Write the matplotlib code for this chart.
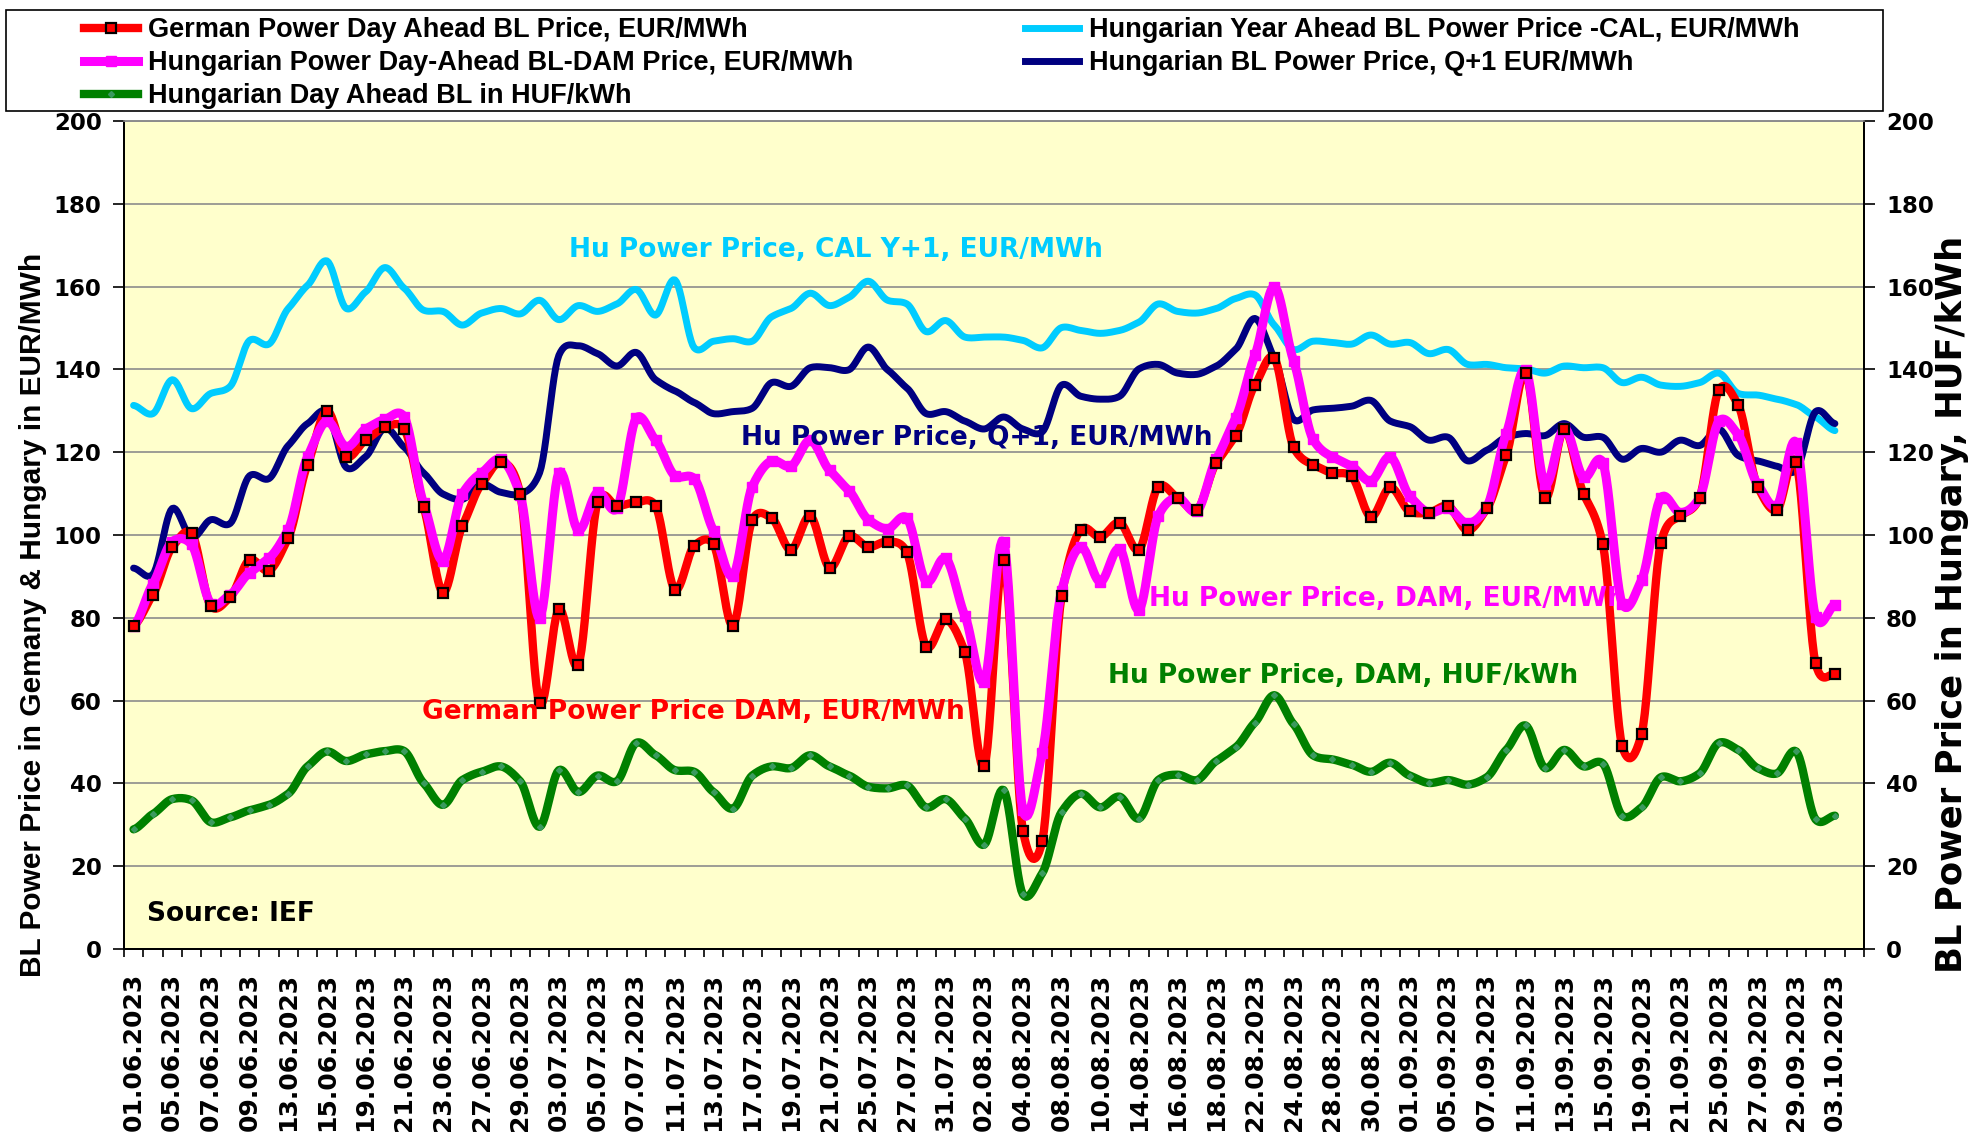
import numpy as np
import pandas as pd
import matplotlib
matplotlib.use("Agg")
import matplotlib.pyplot as plt
from matplotlib.lines import Line2D
from matplotlib.patches import Rectangle

# business days shown on the category axis
dates = pd.bdate_range("2023-06-01", "2023-10-03")
date_labels = [d.strftime("%d.%m.%Y") for d in dates]

# German Power Day Ahead BL Price, EUR/MWh
german_dam = [78.1, 85.6, 97.1, 100.4, 82.8, 85.0, 94.0, 91.4, 99.3, 117.0,
              130.0, 118.9, 122.9, 126.0, 125.6, 106.8, 86.1, 102.1, 112.3, 117.6,
              109.9, 59.3, 82.1, 68.6, 107.9, 107.0, 107.9, 107.0, 86.8, 97.4,
              97.7, 78.1, 103.6, 104.1, 96.4, 104.6, 92.1, 99.7, 97.1, 98.4,
              95.8, 73.0, 79.6, 71.7, 44.1, 94.0, 28.6, 26.0, 85.2, 101.3,
              99.5, 103.0, 96.4, 111.7, 109.0, 106.0, 117.4, 124.0, 136.2, 142.8,
              121.2, 117.0, 115.0, 114.2, 104.4, 111.5, 105.7, 105.4, 107.0, 101.1,
              106.4, 119.2, 139.2, 109.0, 125.6, 109.9, 97.7, 49.0, 51.9, 98.1,
              104.6, 109.0, 135.1, 131.4, 111.7, 106.0, 117.6, 69.0, 66.4]

# Hungarian Power Day-Ahead BL-DAM Price, EUR/MWh
hu_dam_eur = [78.0, 88.2, 98.4, 97.7, 83.4, 85.6, 90.9, 94.4, 101.3, 118.9,
              127.5, 121.3, 125.6, 127.9, 128.5, 107.7, 93.8, 109.9, 115.0, 118.3,
              109.7, 79.9, 115.0, 101.1, 110.3, 106.4, 128.2, 122.9, 114.3, 113.6,
              101.0, 90.1, 111.7, 117.9, 116.6, 122.9, 115.6, 110.7, 103.7, 101.5,
              104.1, 88.7, 94.4, 80.5, 64.6, 98.4, 33.5, 47.4, 86.5, 97.1,
              88.7, 96.7, 81.9, 104.6, 109.0, 105.7, 118.3, 128.2, 143.4, 160.0,
              142.1, 123.2, 118.9, 116.6, 113.0, 118.9, 109.4, 105.4, 106.4, 102.8,
              106.8, 124.5, 139.9, 112.3, 125.8, 113.9, 117.4, 83.4, 89.1, 109.0,
              105.4, 109.0, 127.5, 124.2, 112.3, 107.0, 122.3, 80.3, 83.2]

# Hungarian Year Ahead BL Power Price -CAL, EUR/MWh
hu_cal = [131.3, 129.3, 137.5, 130.5, 134.2, 135.9, 147.0, 146.1, 154.7, 160.3,
          166.2, 154.7, 158.7, 164.6, 159.6, 154.3, 154.0, 150.7, 153.6, 154.7,
          153.4, 156.7, 152.0, 155.4, 154.0, 155.8, 159.3, 153.1, 161.6, 145.2,
          146.8, 147.4, 146.8, 152.7, 154.7, 158.4, 155.4, 157.4, 161.3, 156.7,
          155.8, 149.1, 151.8, 147.8, 147.8, 147.8, 147.0, 145.2, 150.1, 149.4,
          148.7, 149.4, 151.4, 155.8, 154.0, 153.6, 154.7, 157.1, 158.0, 150.7,
          144.8, 146.8, 146.5, 146.1, 148.3, 146.1, 146.5, 143.8, 144.8, 141.2,
          141.2, 140.4, 140.1, 139.1, 140.8, 140.4, 140.4, 136.8, 138.1, 136.2,
          135.9, 136.8, 139.1, 134.2, 133.8, 132.8, 131.5, 128.5, 125.2]

# Hungarian BL Power Price, Q+1 EUR/MWh
hu_q1 = [92.0, 90.5, 106.4, 99.3, 103.7, 102.8, 114.3, 113.6, 121.6, 126.9,
         129.8, 116.3, 118.9, 125.8, 121.2, 115.0, 109.9, 108.6, 112.3, 110.3,
         109.9, 115.0, 143.4, 145.7, 143.8, 140.8, 144.1, 137.5, 134.8, 132.0,
         129.3, 129.8, 130.6, 136.8, 135.9, 140.4, 140.4, 139.9, 145.4, 139.9,
         135.5, 129.3, 129.8, 127.5, 125.6, 128.5, 125.6, 124.9, 136.2, 133.5,
         132.8, 133.5, 140.1, 141.2, 139.1, 138.8, 140.8, 144.8, 152.3, 142.8,
         127.9, 130.2, 130.6, 131.1, 132.5, 127.5, 126.2, 122.9, 123.6, 117.9,
         120.5, 123.6, 124.5, 124.0, 126.9, 123.6, 123.6, 118.3, 120.9, 120.0,
         122.9, 121.6, 125.6, 119.2, 117.9, 116.6, 115.6, 129.8, 126.9]

# Hungarian Day Ahead BL in HUF/kWh (right axis)
hu_dam_huf = [28.9, 32.6, 36.2, 35.9, 30.6, 31.8, 33.5, 34.8, 37.5, 44.1,
              47.7, 45.4, 47.0, 47.8, 47.8, 40.1, 34.8, 40.8, 42.8, 44.1,
              40.5, 29.5, 43.2, 37.9, 41.9, 40.5, 49.8, 46.8, 43.2, 42.8,
              37.9, 33.9, 41.9, 44.1, 43.7, 46.8, 44.1, 41.9, 39.2, 38.8,
              39.5, 34.2, 36.2, 31.5, 25.2, 38.4, 13.2, 18.3, 33.1, 37.5,
              34.2, 36.8, 31.5, 40.8, 42.1, 40.8, 45.4, 48.7, 54.7, 61.3,
              54.3, 46.8, 45.8, 44.5, 42.8, 45.0, 41.9, 40.1, 40.8, 39.7,
              41.5, 48.1, 54.0, 43.7, 48.1, 44.1, 44.8, 32.2, 34.2, 41.5,
              40.5, 42.4, 49.8, 48.1, 43.7, 42.4, 47.7, 31.3, 32.2]

RED, MAGENTA, CYAN, NAVY, GREEN = "#FF0000", "#FF00FF", "#00CCFF", "#000080", "#008000"


def smooth(y, n=12, k=0.7):
    # Excel-like smoothed line (cardinal spline through the points)
    y = np.asarray(y, float)
    p = np.concatenate([[y[0]], y, [y[-1]]])
    t = np.linspace(0, 1, n, endpoint=False)
    h00 = 2 * t ** 3 - 3 * t ** 2 + 1
    h10 = t ** 3 - 2 * t ** 2 + t
    h01 = -2 * t ** 3 + 3 * t ** 2
    h11 = t ** 3 - t ** 2
    xs, ys = [], []
    for i in range(len(y) - 1):
        p0, p1, p2, p3 = p[i], p[i + 1], p[i + 2], p[i + 3]
        m1 = k * (p2 - p0) / 2
        m2 = k * (p3 - p1) / 2
        xs.append(i + t)
        ys.append(h00 * p1 + h10 * m1 + h01 * p2 + h11 * m2)
    xs.append([len(y) - 1])
    ys.append([y[-1]])
    return np.concatenate(xs), np.concatenate(ys)


plt.rcParams["font.family"] = "DejaVu Sans"
plt.rcParams["font.weight"] = "bold"

fig = plt.figure(figsize=(19.73, 11.38), dpi=100)
ax = fig.add_axes([0.0628, 0.1661, 0.8819, 0.7276])
ax2 = ax.twinx()

x = np.arange(len(dates))

ax.set_facecolor("#FFFFCC")
ax.set_xlim(-0.5, len(dates) + 0.5)
ax.set_ylim(0, 200)
ax2.set_ylim(0, 200)
ax.set_yticks(range(0, 201, 20))
ax2.set_yticks(range(0, 201, 20))
ax.grid(axis="y", color="#8C8C8C", lw=1.2, zorder=0)
ax.set_axisbelow(True)

ax.plot(*smooth(hu_cal), color=CYAN, lw=5.0, zorder=3, solid_capstyle="round")
ax.plot(*smooth(hu_q1), color=NAVY, lw=5.0, zorder=3, solid_capstyle="round")
ax.plot(*smooth(german_dam), color=RED, lw=6.0, zorder=4, solid_capstyle="round")
ax.plot(*smooth(hu_dam_eur), color=MAGENTA, lw=6.5, zorder=5, solid_capstyle="round")
ax.plot(x, hu_dam_eur, ls="none", marker="s", ms=7, color=MAGENTA, zorder=5)
ax.plot(x, german_dam, ls="none", marker="s", ms=6.5, mfc=RED, mec="black", mew=1.6, zorder=6)

ax2.plot(*smooth(hu_dam_huf), color=GREEN, lw=6.0, zorder=3, solid_capstyle="round")
ax2.plot(x, hu_dam_huf, ls="none", marker="D", ms=3, mfc="#3A9A5E", mec="#3A9A5E", zorder=4)

# category axis: tick marks between categories, labels on every second date
ax.set_xticks(x[::2])
ax.set_xticklabels(date_labels[::2], rotation=90, fontsize=18, fontweight="bold")
ax.set_xticks(np.arange(-0.5, len(dates) + 1), minor=True)
ax.tick_params(axis="x", which="major", length=0, pad=17)
ax.tick_params(axis="x", which="minor", length=6, width=1.2, direction="out")
ax.tick_params(axis="y", length=8, width=1.2, pad=8, labelsize=16.5)
ax2.tick_params(axis="y", length=8, width=1.2, pad=8, labelsize=16.5)
for lab in ax.get_yticklabels() + ax2.get_yticklabels():
    lab.set_fontweight("bold")

for a in (ax, ax2):
    a.spines["top"].set_color("#8C8C8C")
    a.spines["top"].set_linewidth(1.2)
    for s in ("left", "right", "bottom"):
        a.spines[s].set_linewidth(1.4)

fig.text(0.0167, 0.4596, "BL Power Price in Gemany & Hungary in EUR/MWh", rotation=90,
         ha="center", va="center", fontsize=21.5, fontweight="bold", family="Liberation Sans")
fig.text(0.9892, 0.4692, "BL Power Price in Hungary, HUF/kWh", rotation=90,
         ha="center", va="center", fontsize=25.5, fontweight="bold", family="DejaVu Sans")

# series annotations inside the plot
notes = [
    (22.5, 168.8, "Hu Power Price, CAL Y+1, EUR/MWh", CYAN),
    (31.4, 123.4, "Hu Power Price, Q+1, EUR/MWh", NAVY),
    (52.5, 84.5, "Hu Power Price, DAM, EUR/MWh", MAGENTA),
    (50.4, 66.0, "Hu Power Price, DAM, HUF/kWh", GREEN),
    (14.9, 57.2, "German Power Price DAM, EUR/MWh", RED),
    (0.7, 8.5, "Source: IEF", "black"),
]
for nx, ny, txt, col in notes:
    ax.text(nx, ny, txt, color=col, fontsize=19, fontweight="bold", ha="left", va="center", zorder=7)

# legend box on top
fig.add_artist(Rectangle((6 / 1973, 1 - 111 / 1138), 1877 / 1973, 101 / 1138,
                         transform=fig.transFigure, facecolor="white", edgecolor="black", lw=1.2))
handles = [
    Line2D([], [], color=RED, lw=6, marker="s", ms=6.5, mfc=RED, mec="black", mew=1.6),
    Line2D([], [], color=MAGENTA, lw=6.5, marker="s", ms=7),
    Line2D([], [], color=GREEN, lw=6, marker="D", ms=3, mfc="#3A9A5E", mec="#3A9A5E"),
    Line2D([], [], color=CYAN, lw=5),
    Line2D([], [], color=NAVY, lw=5),
]
labels = ["German Power Day Ahead BL Price, EUR/MWh",
          "Hungarian Power Day-Ahead BL-DAM Price, EUR/MWh",
          "Hungarian Day Ahead BL in HUF/kWh",
          "Hungarian Year Ahead BL Power Price -CAL, EUR/MWh",
          "Hungarian BL Power Price, Q+1 EUR/MWh"]
fig.legend(handles, labels, loc="upper left", bbox_to_anchor=(84 / 1973, 1 - 17 / 1138),
           ncol=2, frameon=False, borderpad=0, borderaxespad=0, handlelength=2.0,
           handletextpad=0.35, columnspacing=6.35, labelspacing=0.26,
           prop={"family": "Liberation Sans", "weight": "bold", "size": 19.5})

fig.savefig("out.png", dpi=100, facecolor="white")
